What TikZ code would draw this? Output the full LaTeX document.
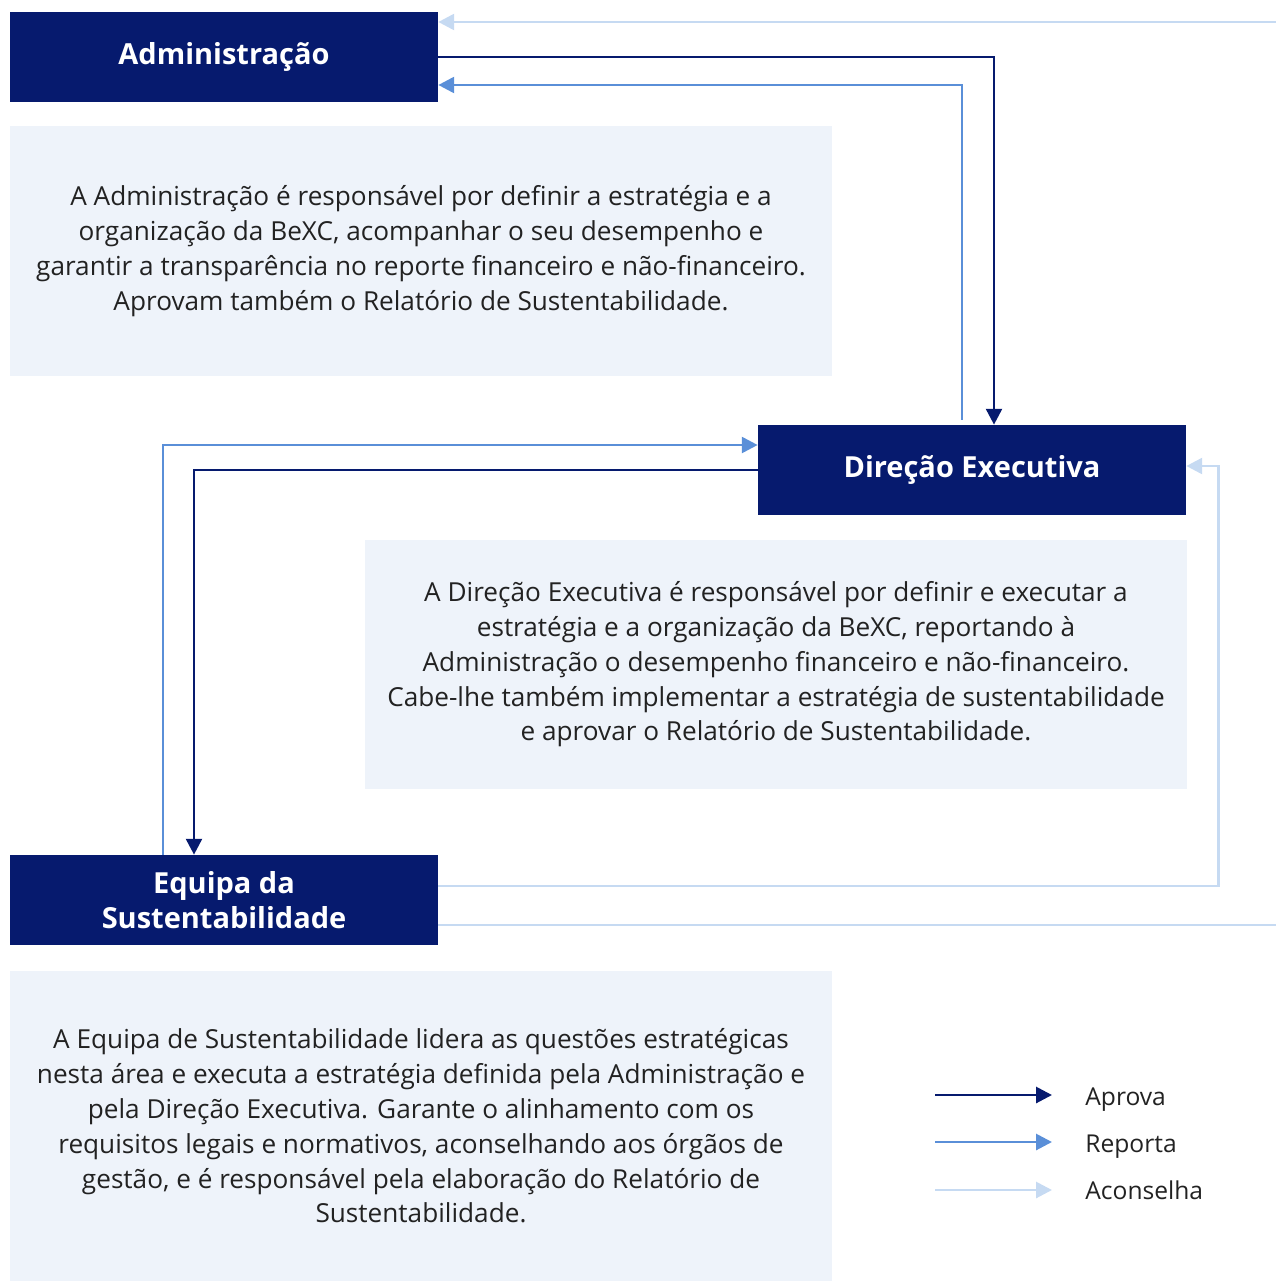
\documentclass[tikz,border=0pt]{standalone}
\usepackage{fontspec}
\setmainfont{Open Sans}
\usetikzlibrary{arrows.meta,calc}
\definecolor{navy}{RGB}{6,26,110}
\definecolor{panel}{RGB}{238,243,250}
\definecolor{reportblue}{RGB}{90,143,216}
\definecolor{advisblue}{RGB}{198,218,242}
\definecolor{bodytext}{RGB}{34,34,34}
\tikzset{
  titlebox/.style={fill=navy,text=white,minimum width=8.56cm,minimum height=1.8cm,
    inner sep=0pt,align=center,font=\fontsize{16.5}{19.8}\selectfont\bfseries},
  notebox/.style={fill=panel,text=bodytext,minimum width=16.44cm,minimum height=5cm,
    inner sep=0pt,align=center,font=\fontsize{14.9}{19.8}\selectfont},
  aprova/.style={draw=navy,line width=1.6pt,-{Triangle[length=9pt,width=9pt]}},
  reporta/.style={draw=reportblue,line width=1.6pt,-{Triangle[length=9pt,width=9pt]}},
  aconselha/.style={draw=advisblue,line width=1.6pt,-{Triangle[length=9pt,width=9pt]}},
  legendtext/.style={anchor=base west,inner sep=0pt,text=bodytext,font=\fontsize{14}{16}\selectfont}
}
\begin{document}
\begin{tikzpicture}[x=0.02cm,y=-0.02cm]
  \useasboundingbox (0,0) rectangle (1275,1281);
  % boxes
  \node[notebox] (admintxt) at (421,251) {A Administração é responsável por definir a estratégia e a\\organização da BeXC, acompanhar o seu desempenho e\\garantir a transparência no reporte financeiro e não-financeiro.\\Aprovam também o Relatório de Sustentabilidade.};
  \node[notebox] (direcaotxt) at (776,664.5) {A Direção Executiva é responsável por definir e executar a\\estratégia e a organização da BeXC, reportando à\\Administração o desempenho financeiro e não-financeiro.\\Cabe-lhe também implementar a estratégia de sustentabilidade\\e aprovar o Relatório de Sustentabilidade.};
  \node[notebox,minimum height=6.2cm] (equipatxt) at (421,1126) {A Equipa de Sustentabilidade lidera as questões estratégicas\\nesta área e executa a estratégia definida pela Administração e\\pela Direção Executiva. Garante o alinhamento com os\\requisitos legais e normativos, aconselhando aos órgãos de\\gestão, e é responsável pela elaboração do Relatório de\\Sustentabilidade.};
  \node[titlebox] (admin) at (224,57) {Administração};
  \node[titlebox] (direcao) at (972,470) {Direção Executiva};
  \node[titlebox] (equipa) at (224,900) {Equipa da\\Sustentabilidade};
  % connectors
  \coordinate (rimtop) at (1279,22);
  \draw[aconselha] ($(equipa.east)+(0,25)$) -| (rimtop) -- ($(admin.east)+(0,-35)$);
  \draw[aprova] (admin.east) -| ($(direcao.north)+(22,0)$);
  \draw[reporta] ($(direcao.north)+(-10,-5)$) |- ($(admin.east)+(0,28)$);
  \draw[reporta] ($(equipa.north)+(-61,0)$) |- ($(direcao.west)+(0,-25)$);
  \draw[aprova] (direcao.west) -| ($(equipa.north)+(-30,0)$);
  \draw[aconselha] ($(equipa.east)+(0,-14)$) -| ($(direcao.east)+(32,-4)$) -- ($(direcao.east)+(0,-4)$);
  % legend
  \node[legendtext] (lgaprova) at (1085,1105) {Aprova};
  \node[legendtext] (lgreporta) at (1085,1152) {Reporta};
  \node[legendtext] (lgaconselha) at (1085,1199) {Aconselha};
  \coordinate (lgaprovastart) at (935,1095);
  \coordinate (lgreportastart) at (935,1142);
  \coordinate (lgaconselhastart) at (935,1190);
  \draw[aprova] (lgaprovastart) -- ($(lgaprova.base west)+(-33,-10)$);
  \draw[reporta] (lgreportastart) -- ($(lgreporta.base west)+(-33,-10)$);
  \draw[aconselha] (lgaconselhastart) -- ($(lgaconselha.base west)+(-33,-9)$);
\end{tikzpicture}
\end{document}
